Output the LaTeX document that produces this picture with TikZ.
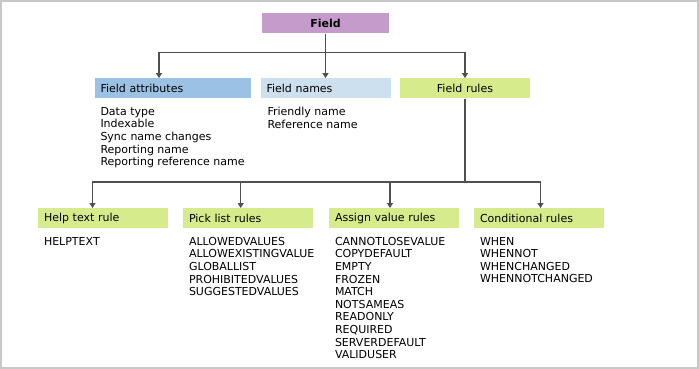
\documentclass[tikz,border=0pt]{standalone}
\usepackage{fontspec}
\setmainfont{DejaVu Sans}
\usetikzlibrary{positioning,arrows.meta}
\definecolor{plum}{RGB}{197,155,203}
\definecolor{skyblue}{RGB}{155,194,228}
\definecolor{paleblue}{RGB}{205,224,240}
\definecolor{fieldgreen}{RGB}{214,236,140}
\definecolor{wiregray}{RGB}{80,80,80}
\definecolor{framegray}{RGB}{200,200,200}
\newcommand{\txt}{\fontsize{11}{12.6}\selectfont}
\tikzset{
  hdr/.style={fill=#1, minimum height=20pt, text width=118pt, inner xsep=6pt, inner ysep=0pt, align=left, font=\txt},
  hdr/.default={fieldgreen},
  items/.style={inner sep=0pt, align=left, font=\txt},
  wire/.style={line width=1.2pt, draw=wiregray},
  arrow/.style={wire, -{Triangle[length=5pt,width=6pt]}}
}

\begin{document}
\begin{tikzpicture}[x=1pt,y=-1pt]
  \useasboundingbox (0,0) rectangle (699,369);
  \draw[framegray, line width=2pt] (1,1) rectangle (698,368);
  % top level
  \node[hdr=plum, text width=115pt, align=center, font=\txt\bfseries] (field) at (325.5,23.5) {Field};
  \node[hdr=skyblue, text width=144pt] (fattr) at (172.5,88.3) {Field attributes};
  \node[hdr=paleblue] (fnames) at (325.5,88.3) {Field names};
  \node[hdr, align=center] (frules) at (465,88.3) {Field rules};
  \node[items, below right=8.5pt and 6pt of fattr.south west] (attrlist) {Data type\\Indexable\\Sync name changes\\Reporting name\\Reporting reference name};
  \node[items, below right=8.5pt and 7pt of fnames.south west] (namelist) {Friendly name\\Reference name};
  % rule types
  \node[hdr] (help) at (103,218.2) {Help text rule};
  \node[hdr] (pick) at (248,218.2) {Pick list rules};
  \node[hdr] (assign) at (394,218.2) {Assign value rules};
  \node[hdr] (cond) at (539,218.2) {Conditional rules};
  \node[items, below right=8.5pt and 6pt of help.south west] (helplist) {HELPTEXT};
  \node[items, below right=8.5pt and 6pt of pick.south west] (picklist) {ALLOWEDVALUES\\ALLOWEXISTINGVALUE\\GLOBALLIST\\PROHIBITEDVALUES\\SUGGESTEDVALUES};
  \node[items, below right=8.5pt and 6pt of assign.south west] (assignlist) {CANNOTLOSEVALUE\\COPYDEFAULT\\EMPTY\\FROZEN\\MATCH\\NOTSAMEAS\\READONLY\\REQUIRED\\SERVERDEFAULT\\VALIDUSER};
  \node[items, below right=8.5pt and 6pt of cond.south west] (condlist) {WHEN\\WHENNOT\\WHENCHANGED\\WHENNOTCHANGED};
  % connectors
  \coordinate (split) at (325.5,52.3);
  \coordinate (rulesplit) at (465,182);
  \draw[wire] (field) -- (split);
  \draw[arrow] (split) -| ([xshift=-13.5pt]fattr.north);
  \draw[arrow] (split) -- (fnames);
  \draw[arrow] (split) -| (frules);
  \draw[wire] (frules) -- (rulesplit);
  \draw[arrow] (rulesplit) -| ([xshift=-10.5pt]help.north);
  \draw[arrow] (rulesplit) -| ([xshift=-7.3pt]pick.north);
  \draw[arrow] (rulesplit) -| ([xshift=-4pt]assign.north);
  \draw[arrow] (rulesplit) -| ([xshift=1.5pt]cond.north);
\end{tikzpicture}
\end{document}
